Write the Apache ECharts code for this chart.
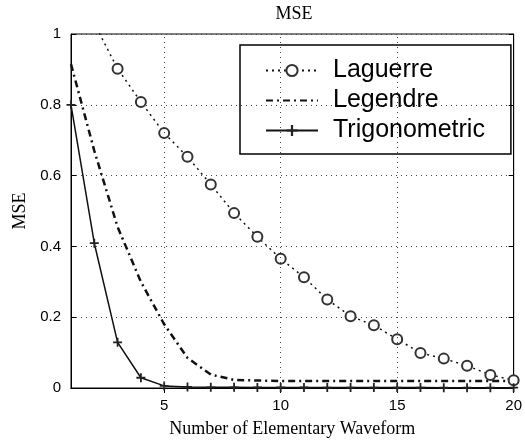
<!DOCTYPE html>
<html>
<head>
<meta charset="utf-8">
<script src="https://cdn.jsdelivr.net/npm/echarts@6/dist/echarts.min.js"></script>
<style>html,body{margin:0;padding:0;background:#fff;}#c{width:525px;height:443px;}</style>
</head>
<body>
<div id="c"></div>
<script>
var xValues = [1,2,3,4,5,6,7,8,9,10,11,12,13,14,15,16,17,18,19,20];
var laguerre = [1.19,1.03,0.902,0.808,0.72,0.653,0.575,0.494,0.427,0.365,0.313,0.25,0.203,0.177,0.138,0.099,0.083,0.063,0.037,0.022];
var legendre = [0.915,0.67,0.455,0.30,0.18,0.085,0.038,0.023,0.021,0.02,0.02,0.02,0.02,0.02,0.02,0.02,0.02,0.02,0.02,0.02];
var trigonometric = [0.80,0.409,0.129,0.029,0.006,0.003,0.002,0.0018,0.0016,0.0015,0.0014,0.0013,0.0012,0.0012,0.0011,0.0011,0.001,0.001,0.001,0.001];
var xTicks = [5,10,15,20];
var xGridLines = [5,10,15];
var seriesNames = ['Laguerre','Legendre','Trigonometric'];

function pairs(ys){ return xValues.map(function(x,i){ return [x, ys[i]]; }); }

var sans = 'Liberation Sans';
var serif = 'Liberation Serif';
var dotStyle = {color:'#444', width:1, type:[1,4]};

var chart = echarts.init(document.getElementById('c'), null, {renderer:'canvas'});
chart.setOption({
  animation:false,
  backgroundColor:'#fff',
  title:{text:'MSE', left:294, textAlign:'center', top:5, padding:0,
    textStyle:{fontFamily:serif, fontSize:18, fontWeight:'normal', color:'#000'}},
  grid:{left:71, right:7, top:34, bottom:51, show:true, borderColor:'#000', borderWidth:1, containLabel:false},
  legend:{
    orient:'vertical', left:240, top:45,
    padding:[13,26,11,25], itemGap:5, itemWidth:52, itemHeight:14,
    borderColor:'#000', borderWidth:1.5, backgroundColor:'transparent',
    textStyle:{fontFamily:sans, fontSize:25, color:'#000', padding:[0,0,0,10]},
    data:[seriesNames[0], {name:seriesNames[1], itemStyle:{opacity:0}}, seriesNames[2]]
  },
  xAxis:[{
    type:'value', min:1, max:20, position:'bottom',
    name:'Number of Elementary Waveform', nameLocation:'middle', nameGap:32,
    nameTextStyle:{fontFamily:serif, fontSize:18, color:'#000'},
    axisLine:{show:true, lineStyle:{color:'#000', width:1}},
    axisTick:{show:true, inside:true, length:5, customValues:xTicks, lineStyle:{color:'#000'}},
    axisLabel:{show:true, customValues:xTicks, margin:10, fontFamily:sans, fontSize:15, color:'#000'},
    splitLine:{show:false}
  },{
    type:'value', min:1, max:20, position:'top',
    axisLine:{show:true, lineStyle:{color:'#000', width:1}},
    axisTick:{show:true, inside:true, length:5, customValues:xTicks, lineStyle:{color:'#000'}},
    axisLabel:{show:false},
    splitLine:{show:false}
  }],
  yAxis:[{
    type:'value', min:0, max:1, interval:0.2, position:'left',
    name:'MSE', nameLocation:'middle', nameGap:38,
    nameTextStyle:{fontFamily:serif, fontSize:18, color:'#000'},
    axisLine:{show:true, lineStyle:{color:'#000', width:1}},
    axisTick:{show:true, inside:true, length:5, lineStyle:{color:'#000'}},
    axisLabel:{margin:10, fontFamily:sans, fontSize:15, color:'#000'},
    splitLine:{show:true, lineStyle:dotStyle}
  },{
    type:'value', min:0, max:1, interval:0.2, position:'right',
    axisLine:{show:true, lineStyle:{color:'#000', width:1}},
    axisTick:{show:true, inside:true, length:5, lineStyle:{color:'#000'}},
    axisLabel:{show:false},
    splitLine:{show:false}
  }],
  series:[{
    name:seriesNames[0], type:'line', data:pairs(laguerre), clip:true,
    symbol:'emptyCircle', symbolSize:10, showAllSymbol:true,
    itemStyle:{color:'#333', borderColor:'#222', borderWidth:2.5},
    lineStyle:{color:'#111', width:1.5, type:[2,4]},
    markLine:{silent:true, symbol:'none', label:{show:false},
      lineStyle:dotStyle, data:xGridLines.map(function(v){return {xAxis:v};})},
    z:3
  },{
    name:seriesNames[1], type:'line', data:pairs(legendre), clip:true,
    symbol:'none', smooth:false,
    itemStyle:{color:'#111'},
    lineStyle:{color:'#111', width:2.5, type:[7,4,2,4]},
    z:2
  },{
    name:seriesNames[2], type:'line', data:pairs(trigonometric), clip:true,
    symbol:'path://M4,0H6V4H10V6H6V10H4V6H0V4H4Z', symbolSize:9, showAllSymbol:true,
    itemStyle:{color:'#222'},
    lineStyle:{color:'#111', width:1.5, type:'solid'},
    z:4
  }]
});
</script>
</body>
</html>
